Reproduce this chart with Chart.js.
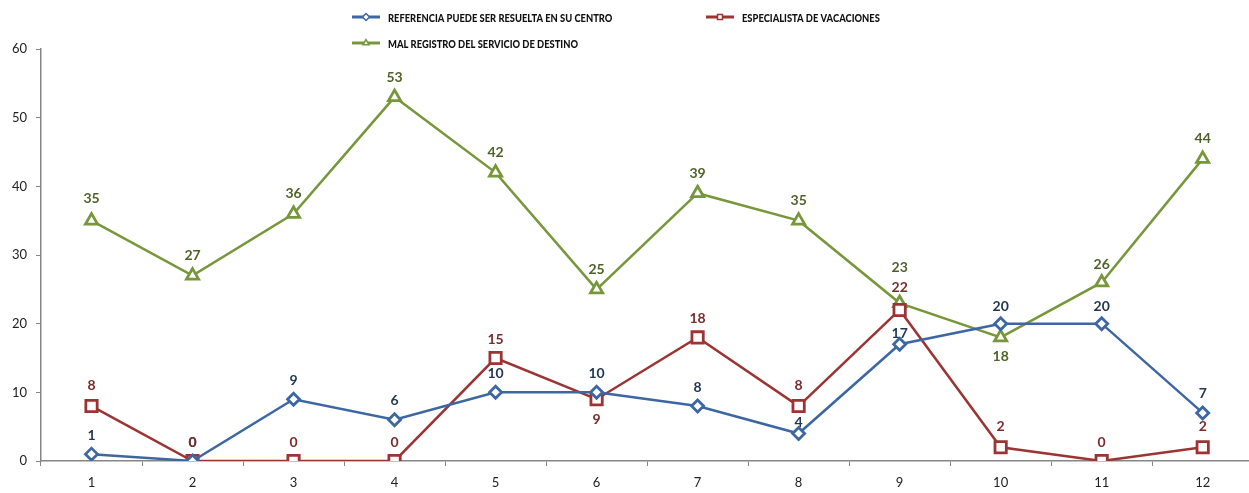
<!DOCTYPE html>
<html>
<head>
<meta charset="utf-8">
<script src="https://cdn.jsdelivr.net/npm/chart.js@4/dist/chart.umd.min.js"></script>
<style>
  html, body { margin: 0; padding: 0; background: #fff; overflow: hidden; }
  #wrap { width: 1264px; height: 493px; position: relative; }
</style>
</head>
<body>
<div id="wrap"><canvas id="myChart"></canvas></div>
<script>
// categories and series
var categories = ["1", "2", "3", "4", "5", "6", "7", "8", "9", "10", "11", "12"];
var referencia = [1, 0, 9, 6, 10, 10, 8, 4, 17, 20, 20, 7];
var especialista = [8, 0, 0, 0, 15, 9, 18, 8, 22, 2, 0, 2];
var malRegistro = [35, 27, 36, 53, 42, 25, 39, 35, 23, 18, 26, 44];
var seriesNames = [
    "REFERENCIA PUEDE SER RESUELTA EN SU CENTRO",
    "ESPECIALISTA DE VACACIONES",
    "MAL REGISTRO DEL SERVICIO DE DESTINO"
];

var lineColors = ["#3C67A3", "#9B3534", "#77983A"];
var labelColors = ["#1F3552", "#7A2C2A", "#4F6328"];

// where each value label sits, pixels from the point (negative = above)
var labelShift = [
    [-19, -19, -19, -19, -19, -19, -19, -11, -11, -17, -17, -19],
    [-21, -19, -19, -19, -19, 20, -19, -21, -22, -21, -19, -21],
    [-22, -20, -20, -20, -20, -20, -20, -20, -36, 19, -18, -20]
];

var FONT = "Lato, 'Open Sans', sans-serif";

var valueLabels = {
    id: "valueLabels",
    afterDatasetsDraw: function (chart) {
        var ctx = chart.ctx;
        ctx.save();
        ctx.font = "bold 14px " + FONT;
        ctx.textAlign = "center";
        ctx.textBaseline = "middle";
        chart.data.datasets.forEach(function (ds, i) {
            var meta = chart.getDatasetMeta(i);
            meta.data.forEach(function (pt, j) {
                ctx.fillStyle = labelColors[i];
                ctx.fillText(String(ds.data[j]), pt.x, pt.y + labelShift[i][j]);
            });
        });
        ctx.restore();
    }
};

// legend laid out as in the picture: two columns, two rows
var customLegend = {
    id: "customLegend",
    afterDraw: function (chart) {
        var ctx = chart.ctx;
        var spots = [[352, 17], [706, 17], [352, 43]];
        var markers = ["rectRot", "rect", "triangle"];
        ctx.save();
        for (var i = 0; i < 3; i++) {
            var x = spots[i][0], y = spots[i][1];
            ctx.strokeStyle = lineColors[i];
            ctx.lineWidth = 3;
            ctx.beginPath();
            ctx.moveTo(x, y);
            ctx.lineTo(x + 28, y);
            ctx.stroke();
            ctx.fillStyle = "#fff";
            ctx.lineWidth = 1.5;
            Chart.helpers.drawPoint(ctx, {pointStyle: markers[i], radius: 3.5, borderWidth: 1.5}, x + 14, y);
            // narrow the text a bit, the original font is condensed
            ctx.save();
            ctx.translate(x + 36, y + 1);
            ctx.scale(0.78, 1);
            ctx.font = "900 12px " + FONT;
            ctx.textBaseline = "middle";
            ctx.textAlign = "left";
            ctx.fillStyle = "#111";
            ctx.fillText(seriesNames[i], 0, 0);
            ctx.restore();
        }
        ctx.restore();
    }
};

window.onload = function () {
    var ctx = document.getElementById("myChart").getContext("2d");
    var myChart = new Chart(ctx, {
        type: "line",
        data: {
            labels: categories,
            datasets: [{
                label: seriesNames[0],
                data: referencia,
                borderColor: lineColors[0],
                pointStyle: "rectRot",
                pointRadius: 6
            },
            {
                label: seriesNames[1],
                data: especialista,
                borderColor: lineColors[1],
                pointStyle: "rect",
                pointRadius: 8
            },
            {
                label: seriesNames[2],
                data: malRegistro,
                borderColor: lineColors[2],
                pointStyle: "triangle",
                pointRadius: 7
            }
        ]},
        options: {
            responsive: true,
            maintainAspectRatio: false,
            animation: false,
            datasets: {
                line: {
                    borderWidth: 2.5,
                    tension: 0,
                    pointBackgroundColor: "#fff",
                    pointBorderWidth: 2.8,
                    pointHoverRadius: 6
                }
            },
            layout: { padding: { top: 49, left: 1, right: 0, bottom: 0 } },
            plugins: {
                legend: { display: false },
                tooltip: { enabled: false }
            },
            scales: {
                x: {
                    offset: true,
                    grid: {
                        offset: true,
                        drawOnChartArea: false,
                        drawTicks: true,
                        tickLength: 5,
                        color: "#868686"
                    },
                    border: { color: "#868686", width: 1.5 },
                    ticks: { color: "#222", font: { family: FONT, size: 13 }, padding: 9 },
                    afterFit: function (s) { s.height = 32; }
                },
                y: {
                    min: 0,
                    max: 60,
                    grid: {
                        drawOnChartArea: false,
                        drawTicks: true,
                        tickLength: 5,
                        color: "#868686"
                    },
                    border: { color: "#868686", width: 1.5 },
                    ticks: { stepSize: 10, color: "#222", font: { family: FONT, size: 13 }, padding: 9 },
                    afterFit: function (s) { s.width = 40; }
                }
            }
        },
        plugins: [valueLabels, customLegend]
    });
};
</script>
</body>
</html>
